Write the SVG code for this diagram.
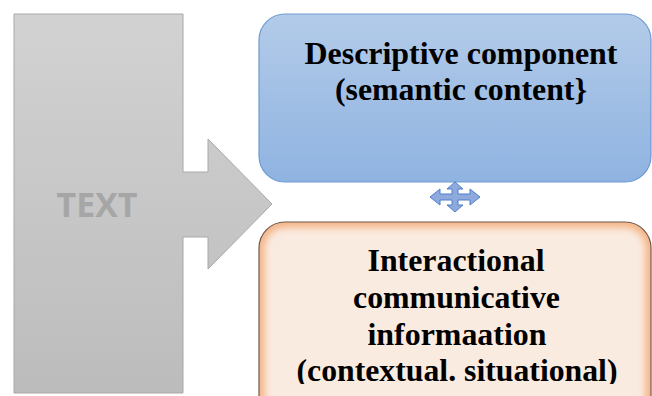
<svg xmlns="http://www.w3.org/2000/svg" width="652" height="396" viewBox="0 0 652 396">
<defs>
<linearGradient id="gGray" x1="0" y1="0" x2="0" y2="1"><stop offset="0" stop-color="#d2d2d2"/><stop offset="1" stop-color="#bcbcbc"/></linearGradient>
<linearGradient id="gBlue" x1="0" y1="0" x2="0" y2="1"><stop offset="0" stop-color="#b3cbe9"/><stop offset="1" stop-color="#8fb3e1"/></linearGradient>
<clipPath id="cOrange"><rect x="259" y="222" width="392" height="200" rx="26"/></clipPath>
<clipPath id="cText"><rect x="0" y="0" width="652" height="384"/></clipPath>
<filter id="fBlur" x="-10%" y="-10%" width="120%" height="120%"><feGaussianBlur stdDeviation="4"/></filter>
<style>
.t{font-family:"Liberation Serif","Times New Roman",serif;font-weight:bold;font-size:31px;fill:#000;text-anchor:middle}
</style>
</defs>
<g id="text-arrow">
<polygon points="14,14 183,14 183,172 208,172 208,139 272,204 208,269 208,237 183,237 183,393 14,393" fill="url(#gGray)" stroke="#a8a8a8" stroke-width="1"/>
<text x="97" y="217" font-family="'Open Sans','Liberation Sans',sans-serif" font-weight="bold" font-size="34" fill="#a6a6a6" text-anchor="middle" textLength="81" lengthAdjust="spacingAndGlyphs">TEXT</text>
</g>
<g id="descriptive">
<rect x="259" y="14" width="392" height="168" rx="26" fill="url(#gBlue)" stroke="#6c9bd2" stroke-width="1.2"/>
<text class="t" x="461" y="64" textLength="313" lengthAdjust="spacingAndGlyphs">Descriptive component</text>
<text class="t" x="461" y="100" textLength="252" lengthAdjust="spacingAndGlyphs">(semantic content}</text>
</g>
<g id="connectors">
<polygon points="455,182 463,189 458,189 458,194 470,194 470,189 480,197 470,205 470,200 458,200 458,205 463,205 455,212 447,205 452,205 452,200 440,200 440,205 430,197 440,189 440,194 452,194 452,189 447,189" fill="#8eaadc" stroke="#4f7fcf" stroke-width="1"/>
</g>
<g id="interactional">
<rect x="259" y="222" width="392" height="200" rx="26" fill="#faebe1"/>
<g clip-path="url(#cOrange)"><rect x="259" y="222" width="392" height="200" rx="26" fill="none" stroke="#f2a66e" stroke-width="9" filter="url(#fBlur)"/></g>
<rect x="259" y="222" width="392" height="200" rx="26" fill="none" stroke="#6e5a4c" stroke-width="1.2"/>
<g clip-path="url(#cText)">
<text class="t" x="456" y="271" textLength="177" lengthAdjust="spacingAndGlyphs">Interactional</text>
<text class="t" x="456.5" y="308" textLength="207" lengthAdjust="spacingAndGlyphs">communicative</text>
<text class="t" x="457" y="345" textLength="179" lengthAdjust="spacingAndGlyphs">informaation</text>
<text class="t" x="457" y="381" textLength="321" lengthAdjust="spacingAndGlyphs">(contextual. situational)</text>
</g>
</g>
</svg>
